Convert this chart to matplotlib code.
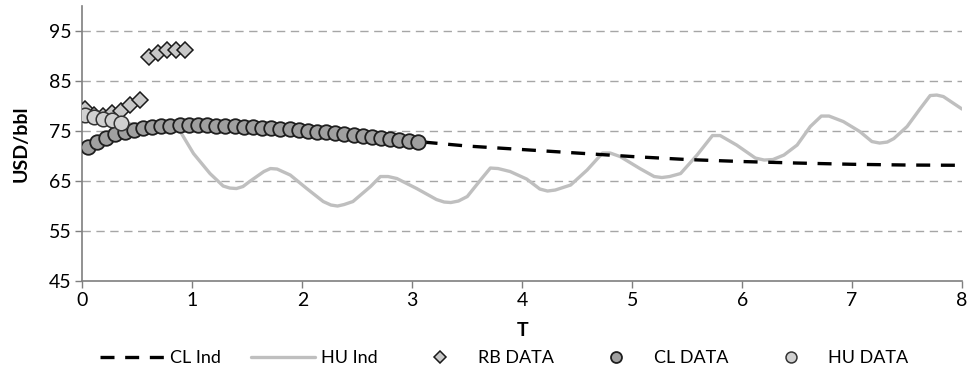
import matplotlib
matplotlib.use("Agg")
import matplotlib.pyplot as plt

plt.rcParams["font.family"] = ["Lato", "DejaVu Sans"]

# Monthly observations (T in years)
rb_t = [0.02, 0.103, 0.187, 0.27, 0.353, 0.437, 0.52, 0.603, 0.687, 0.77, 0.853, 0.937]
rb_val = [79.5, 78.2, 78.0, 78.6, 79.1, 80.2, 81.3, 89.8, 90.6, 91.2, 91.3, 91.3]

cl_t = [0.05 + k / 12 for k in range(37)]
cl_val = [71.9, 72.9, 73.7, 74.4, 74.9, 75.3, 75.6, 75.9, 76.0, 76.1, 76.2, 76.2, 76.2,
          76.2, 76.1, 76.1, 76.0, 75.9, 75.8, 75.7, 75.6, 75.5, 75.4, 75.2, 75.1, 74.9,
          74.8, 74.6, 74.5, 74.3, 74.1, 73.9, 73.7, 73.5, 73.3, 73.1, 72.9]

hu_t = [0.02, 0.103, 0.187, 0.27, 0.353]
hu_val = [78.2, 77.9, 77.5, 77.2, 76.6]

# Model curves
cl_ind_t = [0.0, 0.5, 1.0, 1.5, 2.0, 2.5, 3.0, 3.5, 4.0, 4.5, 5.0, 5.5, 6.0, 6.5, 7.0, 7.5, 8.0]
cl_ind_val = [71.5, 75.4, 76.2, 75.9, 75.2, 74.2, 73.0, 72.0, 71.3, 70.6, 69.9, 69.3,
              68.9, 68.6, 68.35, 68.2, 68.15]

hu_ind_t = [0.0, 0.35, 0.6, 0.8, 0.89, 1.01, 1.16, 1.28, 1.34, 1.40, 1.46, 1.52, 1.65,
            1.71, 1.77, 1.89, 2.04, 2.19, 2.26, 2.32, 2.38, 2.46, 2.62, 2.71, 2.78, 2.86,
            3.04, 3.22, 3.29, 3.35, 3.42, 3.50, 3.62, 3.71, 3.78, 3.89, 4.04, 4.16, 4.23,
            4.30, 4.44, 4.59, 4.73, 4.80, 4.89, 5.07, 5.20, 5.27, 5.34, 5.44, 5.59, 5.73,
            5.80, 5.95, 6.12, 6.20, 6.28, 6.38, 6.50, 6.62, 6.72, 6.79, 6.92, 7.07, 7.18,
            7.25, 7.32, 7.38, 7.50, 7.62, 7.71, 7.77, 7.83, 8.0]
hu_ind_val = [78.2, 76.6, 76.2, 76.0, 74.9, 70.5, 66.5, 64.0, 63.6, 63.5, 63.9, 64.9, 66.9,
              67.5, 67.4, 66.2, 63.5, 60.9, 60.2, 60.0, 60.3, 60.9, 63.9, 65.9, 65.9, 65.5,
              63.5, 61.3, 60.8, 60.7, 61.0, 61.9, 65.2, 67.6, 67.5, 66.9, 65.4, 63.4, 63.0,
              63.2, 64.2, 67.2, 70.6, 70.6, 69.9, 67.5, 65.9, 65.7, 65.9, 66.5, 70.2, 74.1,
              74.1, 72.2, 69.6, 69.2, 69.3, 70.2, 72.2, 75.9, 78.0, 78.0, 76.9, 74.9, 72.9,
              72.6, 72.8, 73.5, 75.9, 79.5, 82.1, 82.2, 81.9, 79.4]

x_ticks = [0, 1, 2, 3, 4, 5, 6, 7, 8]
y_ticks = [45, 55, 65, 75, 85, 95]

fig = plt.figure(figsize=(9.7, 3.8), dpi=100)
ax = fig.add_axes([0.085, 0.2605, 0.9068, 0.7235])

# horizontal dashed grid
for yv in y_ticks[1:]:
    ax.axhline(yv, color="#a6a6a6", lw=1.0, ls=(0, (6, 4)), zorder=0)

ax.plot(hu_ind_t, hu_ind_val, color="#bfbfbf", lw=2.4, solid_joinstyle="round",
        solid_capstyle="round", label="HU Ind", zorder=2)
ax.plot(cl_ind_t, cl_ind_val, color="black", lw=2.4, ls=(0, (4.2, 3.2)),
        label="CL Ind", zorder=2)

ax.plot(rb_t, rb_val, ls="none", marker="D", ms=8.0, mfc="#c8c8c8", mec="#1a1a1a",
        mew=1.1, label="RB DATA", zorder=3)
ax.plot(cl_t, cl_val, ls="none", marker="o", ms=10.5, mfc="#a0a0a0", mec="#1e1e1e",
        mew=1.3, label="CL DATA", zorder=4)
ax.plot(hu_t, hu_val, ls="none", marker="o", ms=10.5, mfc="#d0d0d0", mec="#333333",
        mew=1.1, label="HU DATA", zorder=5)

ax.set_xlim(0, 8)
ax.set_ylim(45, 100)
ax.set_xticks(x_ticks)
ax.set_yticks(y_ticks)
ax.tick_params(axis="both", direction="out", length=5, width=1, color="#7f7f7f",
               labelsize=14, pad=3)
for s in ("top", "right"):
    ax.spines[s].set_visible(False)
for s in ("left", "bottom"):
    ax.spines[s].set_color("#7f7f7f")
    ax.spines[s].set_linewidth(1.2)

ax.set_xlabel("T", fontsize=14, fontweight="bold", labelpad=9)
ax.set_ylabel("USD/bbl", fontsize=14, fontweight="bold", labelpad=14)

handles, labels = ax.get_legend_handles_labels()
order = ["CL Ind", "HU Ind", "RB DATA", "CL DATA", "HU DATA"]
hmap = dict(zip(labels, handles))
fig.legend([hmap[k] for k in order], order, loc="center", bbox_to_anchor=(0.52, 0.057),
           ncol=5, frameon=False, fontsize=13, handlelength=3.55, handletextpad=0.3,
           columnspacing=1.7, markerscale=0.75)

fig.savefig("out.png", dpi=100)
